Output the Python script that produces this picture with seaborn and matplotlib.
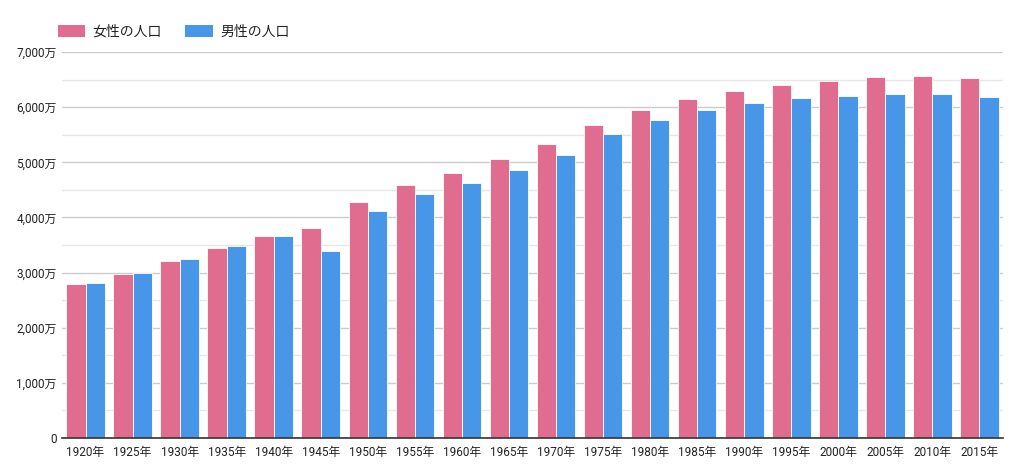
import matplotlib
matplotlib.use("Agg")
import matplotlib.pyplot as plt
import seaborn as sns
import pandas as pd
from matplotlib.ticker import FuncFormatter, MultipleLocator
from matplotlib.patches import Patch

years = ["1920年", "1925年", "1930年", "1935年", "1940年", "1945年", "1950年", "1955年",
         "1960年", "1965年", "1970年", "1975年", "1980年", "1985年", "1990年", "1995年",
         "2000年", "2005年", "2010年", "2015年"]
female = [2792, 2972, 3206, 3452, 3655, 3810, 4287, 4583, 4800, 5052, 5330, 5685,
          5947, 6155, 6291, 6400, 6482, 6542, 6573, 6525]
male = [2804, 3001, 3239, 3473, 3657, 3389, 4124, 4424, 4630, 4869, 5137, 5509,
        5759, 5950, 6070, 6157, 6211, 6235, 6233, 6184]
series = ["女性の人口", "男性の人口"]
colors = ["#E06C90", "#4896E8"]

df = pd.DataFrame({
    "year": years * 2,
    "value": female + male,
    "series": [series[0]] * len(years) + [series[1]] * len(years),
})

sns.set_theme(style="white")
plt.rcParams["font.family"] = ["Roboto", "Noto Sans CJK JP", "DejaVu Sans"]

fig = plt.figure(figsize=(10.24, 4.75), dpi=100)
ax = fig.add_axes([62 / 1024, 1 - 438 / 475, (1003 - 62) / 1024, (438 - 52) / 475])

sns.barplot(data=df, x="year", y="value", hue="series", palette=colors, ax=ax,
            width=0.82, saturation=1, edgecolor="white", linewidth=0.6, legend=False)

ax.set_ylim(0, 7000)
ax.yaxis.set_major_locator(MultipleLocator(1000))
ax.yaxis.set_minor_locator(MultipleLocator(500))
ax.yaxis.set_major_formatter(FuncFormatter(lambda v, p: "0" if v == 0 else f"{int(v):,}万"))
ax.grid(axis="y", which="major", color="#cccccc", linewidth=1)
ax.grid(axis="y", which="minor", color="#e6e6e6", linewidth=1)
ax.set_axisbelow(True)
ax.set_xlim(-0.5, len(years) - 0.5)
for s in ["top", "right", "left"]:
    ax.spines[s].set_visible(False)
ax.spines["bottom"].set_color("#333333")
ax.spines["bottom"].set_linewidth(1.2)
ax.tick_params(axis="both", which="both", length=0, labelsize=8.5, colors="#222222")
ax.tick_params(axis="x", pad=6)
ax.tick_params(axis="y", pad=4)
ax.set_xlabel("")
ax.set_ylabel("")

handles = [Patch(facecolor=c, edgecolor="none") for c in colors]
fig.legend(handles, series, loc="upper left", bbox_to_anchor=(45 / 1024, 1 - 12 / 475),
           ncol=2, frameon=False, fontsize=10, handlelength=2.0, handleheight=1.0,
           columnspacing=1.7, handletextpad=0.5, labelcolor="#222222")

fig.savefig("out.png", dpi=100, facecolor="white")
